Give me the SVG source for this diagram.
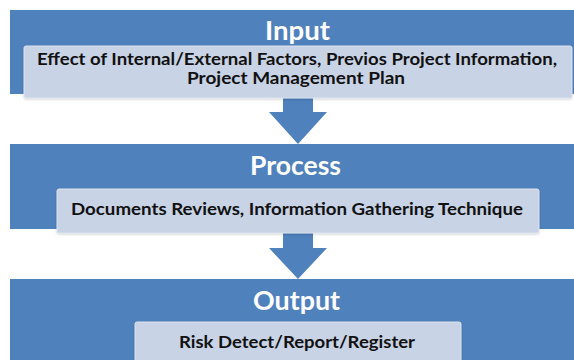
<svg xmlns="http://www.w3.org/2000/svg" width="574" height="360" viewBox="0 0 574 360">
  <style>
    .band { fill: #4F81BD; }
    .card { fill: #C8D3E6; stroke: #DCE3EF; stroke-width: 1; }
    .title { font-family: Lato, "Open Sans", "Liberation Sans", sans-serif; font-weight: 700; font-size: 26px; fill: #FFFFFF; text-anchor: middle; }
    .body { font-family: Lato, "Open Sans", "Liberation Sans", sans-serif; font-weight: 700; font-size: 17px; fill: #111111; text-anchor: middle; }
    .arrow { fill: #4F81BD; }
  </style>
  <defs>
    <filter id="soft" x="-5%" y="-20%" width="110%" height="150%">
      <feDropShadow dx="0" dy="1" stdDeviation="0.8" flood-color="#000000" flood-opacity="0.18"/>
    </filter>
  </defs>

  <rect width="574" height="360" fill="#FFFFFF"/>

  <!-- connectors: block arrows between the stages -->
  <g id="connectors">
    <polygon class="arrow" points="283,96 313,96 313,112 327,112 298,144 269,112 283,112"/>
    <polygon class="arrow" points="283,232 313,232 313,248 327,248 298,279 269,248 283,248"/>
  </g>

  <g id="input">
    <rect class="band" x="10" y="10" width="574" height="84"/>
    <text class="title" x="297.5" y="40" textLength="65" lengthAdjust="spacingAndGlyphs">Input</text>
    <rect class="card" x="24" y="46" width="548" height="52" rx="2" filter="url(#soft)"/>
    <text class="body" x="297" y="65" textLength="520" lengthAdjust="spacingAndGlyphs">Effect of Internal/External Factors, Previos Project Information,</text>
    <text class="body" x="296" y="84" textLength="218" lengthAdjust="spacingAndGlyphs">Project Management Plan</text>
  </g>

  <g id="process">
    <rect class="band" x="10" y="144" width="574" height="85"/>
    <text class="title" x="295.5" y="174.5" textLength="91" lengthAdjust="spacingAndGlyphs">Process</text>
    <rect class="card" x="57" y="189" width="482" height="44" rx="2" filter="url(#soft)"/>
    <text class="body" x="297" y="215" textLength="452" lengthAdjust="spacingAndGlyphs">Documents Reviews, Information Gathering Technique</text>
  </g>

  <g id="output">
    <rect class="band" x="10" y="279" width="574" height="90"/>
    <text class="title" x="296.5" y="309.5" textLength="87" lengthAdjust="spacingAndGlyphs">Output</text>
    <rect class="card" x="135" y="322" width="326" height="48" rx="2" filter="url(#soft)"/>
    <text class="body" x="297" y="348" textLength="236" lengthAdjust="spacingAndGlyphs">Risk Detect/Report/Register</text>
  </g>
</svg>
